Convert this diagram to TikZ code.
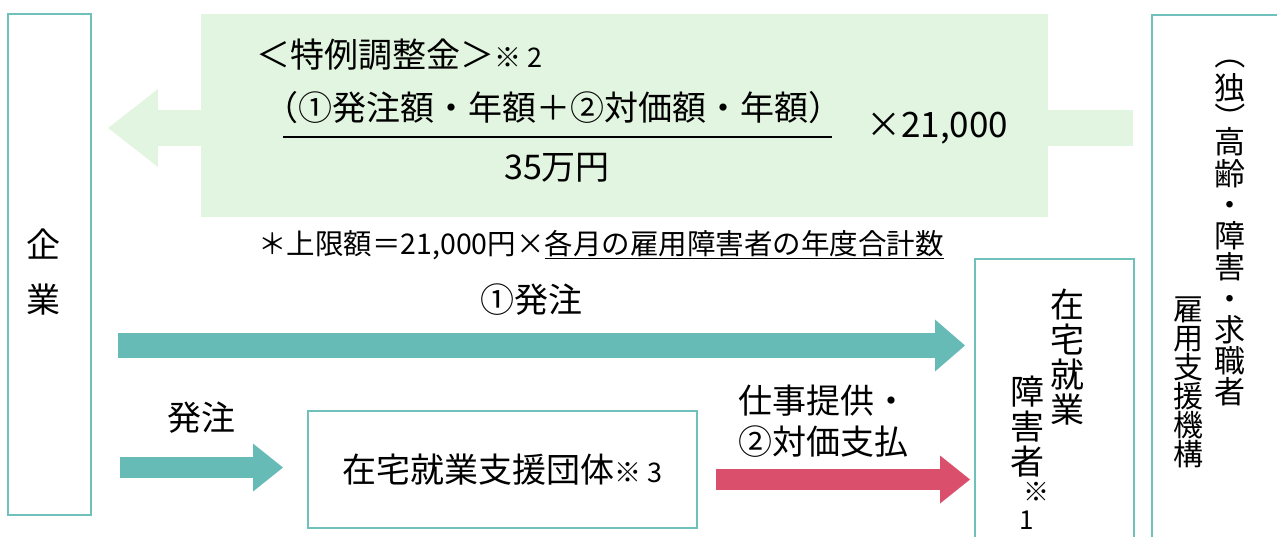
\documentclass[tikz,border=0pt]{standalone}
\usepackage{fontspec}
\usepackage{graphicx}
\setmainfont{Noto Sans CJK JP}
\usetikzlibrary{arrows.meta,positioning}

\definecolor{tealfill}{HTML}{66BBB7}
\definecolor{tealline}{HTML}{70C0BC}
\definecolor{palegreen}{HTML}{E2F5E0}
\definecolor{rosered}{HTML}{DA4F6C}
\newcommand{\fsz}[2]{\fontsize{#1}{#2}\selectfont}

\begin{document}
\begin{tikzpicture}[x=1pt,y=-1pt,
  box/.style={draw=tealline,line width=2pt,inner sep=0pt},
  txt/.style={inner sep=0pt,font=\fsz{34}{41}},
  vcol/.style={align=center,inner sep=0pt,font=\fsz{34}{35}},
  hcol/.style={align=center,inner sep=0pt,font=\fsz{31}{31.25}},
  wide/.style={tealfill,line width=25pt,-{Triangle[length=30pt,width=52pt,line width=0pt]}},
  slim/.style={line width=21pt,-{Triangle[length=30pt,width=48pt,line width=0pt]}},
  back/.style={palegreen,line width=36pt,-{Triangle[length=50pt,width=78pt,line width=0pt]}}]
  \useasboundingbox (0,0) rectangle (1277,536);

  % boxes on both sides
  \node[box,minimum width=83,minimum height=501] (kigyo) at (49.5,264.5) {};
  \node[txt,align=center,font=\fsz{34}{55}] (kigyoname) at (44,272) {企\\業};
  \node[box,minimum width=150,minimum height=540,anchor=north west] (kikou) at (1151,14) {};
  \node[box,minimum width=159,minimum height=300,anchor=north west] (home) at (974,258) {};

  % grant (green band)
  \coordinate (gs) at (1133,128);
  \coordinate (ge) at (108,128);
  \draw[back] (gs) -- (ge);
  \node[fill=palegreen,minimum width=847,minimum height=203,anchor=north west] (tokurei) at (201,14) {};
  \node[txt,anchor=west] (title) at (256,55) {＜特例調整金＞{\fsz{27}{27}※ 2}};
  \node[txt] (num) at (553,108) {（①発注額・年額＋②対価額・年額）};
  \draw[line width=1.5pt] (283,137) -- (832,137);
  \node[txt] (den) at (557,168) {35万円};
  \node[txt,anchor=west,font=\fsz{35}{35}] (rate) at (866,128) {×21,000};
  \node[txt,anchor=west,font=\fsz{28.5}{28.5}] (cap) at (258,245)
    {＊上限額＝21,000円×\underline{各月の雇用障害者の年度合計数}};

  % orders and payment
  \node[txt] (order1) at (531,300) {①発注};
  \coordinate (a1s) at (118,345.5);
  \coordinate (a1e) at (965,345.5);
  \draw[wide] (a1s) -- (a1e);

  \node[txt] (order2) at (201,418) {発注};
  \coordinate (a2s) at (120,467.5);
  \coordinate (a2e) at (283,467.5);
  \draw[slim,tealfill] (a2s) -- (a2e);

  \node[box,minimum width=389,minimum height=117,font=\fsz{34}{34}] (shien) at (502.5,469.5)
    {在宅就業支援団体{\fsz{27}{27}※ 3}};

  \node[txt,align=left,anchor=west] (work) at (738,421) {仕事提供・\\②対価支払};
  \coordinate (a3s) at (716,479.5);
  \coordinate (a3e) at (970,479.5);
  \draw[slim,rosered] (a3s) -- (a3e);

  % vertical labels
  \node[vcol] (homeA) at (1067,357) {在\\宅\\就\\業};
  \node[vcol] (homeB) at (1027,427) {障\\害\\者};
  \node[inner sep=0pt,font=\fsz{26}{26}] (homeC) at (1036,492) {※};
  \node[inner sep=0pt,font=\fsz{26}{26}] (homeD) at (1027,520) {1};

  \node[inner sep=0pt,font=\fsz{31}{31},rotate=-90] (parL) at (1230,54) {（};
  \node[inner sep=0pt,font=\fsz{31}{31}] (dok) at (1230,88) {独};
  \node[inner sep=0pt,font=\fsz{31}{31},rotate=-90] (parR) at (1230,118) {）};
  \node[hcol] (kikouA) at (1230,267) {高\\齢\\・\\障\\害\\・\\求\\職\\者};
  \node[hcol,font=\fsz{30}{29}] (kikouB) at (1188,382.5) {雇\\用\\支\\援\\機\\構};
\end{tikzpicture}
\end{document}
